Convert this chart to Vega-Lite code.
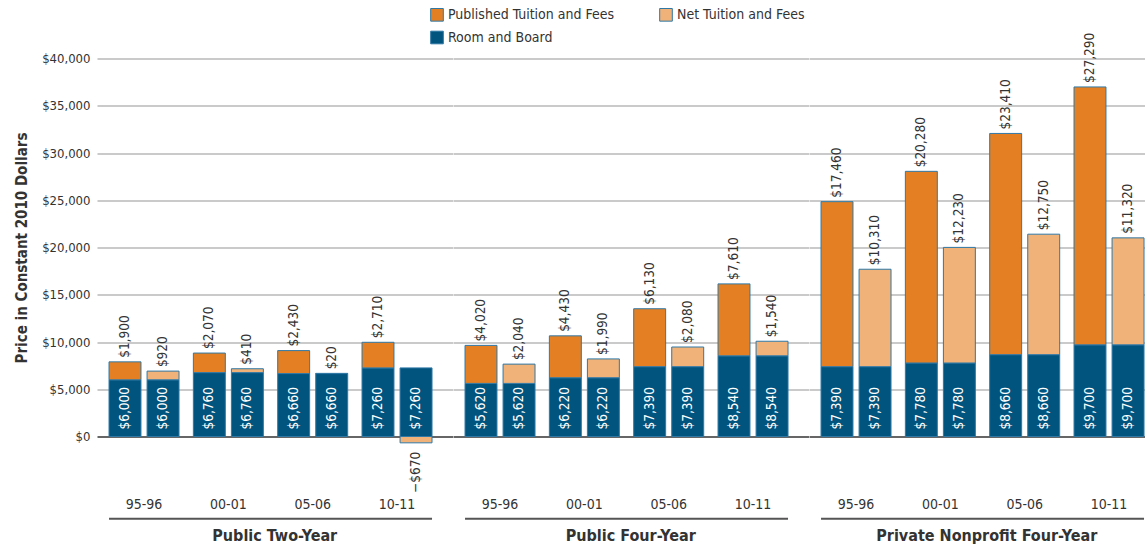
{
  "$schema": "https://vega.github.io/schema/vega-lite/v6.json",
  "padding": {"left": 14, "top": 7.5, "right": 0, "bottom": 0},
  "config": {
    "font": "Liberation Sans Narrow, DejaVu Sans Condensed, sans-serif",
    "view": {"stroke": null},
    "axis": {"labelColor": "#333", "titleColor": "#333", "labelFont": "Liberation Sans Narrow, DejaVu Sans Condensed, sans-serif", "titleFont": "Liberation Sans Narrow, DejaVu Sans Condensed, sans-serif"},
    "legend": {"labelFont": "Liberation Sans Narrow, DejaVu Sans Condensed, sans-serif"},
    "header": {"labelFont": "Liberation Sans Narrow, DejaVu Sans Condensed, sans-serif"}
  },
  "data": {"values": [
    {"group": "Public Two-Year", "year": "95-96", "bar": "Published", "series": "Room and Board", "value": 6000},
    {"group": "Public Two-Year", "year": "95-96", "bar": "Published", "series": "Published Tuition and Fees", "value": 1900},
    {"group": "Public Two-Year", "year": "95-96", "bar": "Net", "series": "Room and Board", "value": 6000},
    {"group": "Public Two-Year", "year": "95-96", "bar": "Net", "series": "Net Tuition and Fees", "value": 920},
    {"group": "Public Two-Year", "year": "00-01", "bar": "Published", "series": "Room and Board", "value": 6760},
    {"group": "Public Two-Year", "year": "00-01", "bar": "Published", "series": "Published Tuition and Fees", "value": 2070},
    {"group": "Public Two-Year", "year": "00-01", "bar": "Net", "series": "Room and Board", "value": 6760},
    {"group": "Public Two-Year", "year": "00-01", "bar": "Net", "series": "Net Tuition and Fees", "value": 410},
    {"group": "Public Two-Year", "year": "05-06", "bar": "Published", "series": "Room and Board", "value": 6660},
    {"group": "Public Two-Year", "year": "05-06", "bar": "Published", "series": "Published Tuition and Fees", "value": 2430},
    {"group": "Public Two-Year", "year": "05-06", "bar": "Net", "series": "Room and Board", "value": 6660},
    {"group": "Public Two-Year", "year": "05-06", "bar": "Net", "series": "Net Tuition and Fees", "value": 20},
    {"group": "Public Two-Year", "year": "10-11", "bar": "Published", "series": "Room and Board", "value": 7260},
    {"group": "Public Two-Year", "year": "10-11", "bar": "Published", "series": "Published Tuition and Fees", "value": 2710},
    {"group": "Public Two-Year", "year": "10-11", "bar": "Net", "series": "Room and Board", "value": 7260},
    {"group": "Public Two-Year", "year": "10-11", "bar": "Net", "series": "Net Tuition and Fees", "value": -670},
    {"group": "Public Four-Year", "year": "95-96", "bar": "Published", "series": "Room and Board", "value": 5620},
    {"group": "Public Four-Year", "year": "95-96", "bar": "Published", "series": "Published Tuition and Fees", "value": 4020},
    {"group": "Public Four-Year", "year": "95-96", "bar": "Net", "series": "Room and Board", "value": 5620},
    {"group": "Public Four-Year", "year": "95-96", "bar": "Net", "series": "Net Tuition and Fees", "value": 2040},
    {"group": "Public Four-Year", "year": "00-01", "bar": "Published", "series": "Room and Board", "value": 6220},
    {"group": "Public Four-Year", "year": "00-01", "bar": "Published", "series": "Published Tuition and Fees", "value": 4430},
    {"group": "Public Four-Year", "year": "00-01", "bar": "Net", "series": "Room and Board", "value": 6220},
    {"group": "Public Four-Year", "year": "00-01", "bar": "Net", "series": "Net Tuition and Fees", "value": 1990},
    {"group": "Public Four-Year", "year": "05-06", "bar": "Published", "series": "Room and Board", "value": 7390},
    {"group": "Public Four-Year", "year": "05-06", "bar": "Published", "series": "Published Tuition and Fees", "value": 6130},
    {"group": "Public Four-Year", "year": "05-06", "bar": "Net", "series": "Room and Board", "value": 7390},
    {"group": "Public Four-Year", "year": "05-06", "bar": "Net", "series": "Net Tuition and Fees", "value": 2080},
    {"group": "Public Four-Year", "year": "10-11", "bar": "Published", "series": "Room and Board", "value": 8540},
    {"group": "Public Four-Year", "year": "10-11", "bar": "Published", "series": "Published Tuition and Fees", "value": 7610},
    {"group": "Public Four-Year", "year": "10-11", "bar": "Net", "series": "Room and Board", "value": 8540},
    {"group": "Public Four-Year", "year": "10-11", "bar": "Net", "series": "Net Tuition and Fees", "value": 1540},
    {"group": "Private Nonprofit Four-Year", "year": "95-96", "bar": "Published", "series": "Room and Board", "value": 7390},
    {"group": "Private Nonprofit Four-Year", "year": "95-96", "bar": "Published", "series": "Published Tuition and Fees", "value": 17460},
    {"group": "Private Nonprofit Four-Year", "year": "95-96", "bar": "Net", "series": "Room and Board", "value": 7390},
    {"group": "Private Nonprofit Four-Year", "year": "95-96", "bar": "Net", "series": "Net Tuition and Fees", "value": 10310},
    {"group": "Private Nonprofit Four-Year", "year": "00-01", "bar": "Published", "series": "Room and Board", "value": 7780},
    {"group": "Private Nonprofit Four-Year", "year": "00-01", "bar": "Published", "series": "Published Tuition and Fees", "value": 20280},
    {"group": "Private Nonprofit Four-Year", "year": "00-01", "bar": "Net", "series": "Room and Board", "value": 7780},
    {"group": "Private Nonprofit Four-Year", "year": "00-01", "bar": "Net", "series": "Net Tuition and Fees", "value": 12230},
    {"group": "Private Nonprofit Four-Year", "year": "05-06", "bar": "Published", "series": "Room and Board", "value": 8660},
    {"group": "Private Nonprofit Four-Year", "year": "05-06", "bar": "Published", "series": "Published Tuition and Fees", "value": 23410},
    {"group": "Private Nonprofit Four-Year", "year": "05-06", "bar": "Net", "series": "Room and Board", "value": 8660},
    {"group": "Private Nonprofit Four-Year", "year": "05-06", "bar": "Net", "series": "Net Tuition and Fees", "value": 12750},
    {"group": "Private Nonprofit Four-Year", "year": "10-11", "bar": "Published", "series": "Room and Board", "value": 9700},
    {"group": "Private Nonprofit Four-Year", "year": "10-11", "bar": "Published", "series": "Published Tuition and Fees", "value": 27290},
    {"group": "Private Nonprofit Four-Year", "year": "10-11", "bar": "Net", "series": "Room and Board", "value": 9700},
    {"group": "Private Nonprofit Four-Year", "year": "10-11", "bar": "Net", "series": "Net Tuition and Fees", "value": 11320}
  ]},
  "facet": {
    "column": {
      "field": "group",
      "type": "nominal",
      "sort": ["Public Two-Year", "Public Four-Year", "Private Nonprofit Four-Year"],
      "header": {"title": null, "labelOrient": "bottom", "labelFontSize": 16, "labelFontWeight": "bold", "labelColor": "#333", "labelPadding": 7}
    }
  },
  "spacing": 0,
  "resolve": {"axis": {"x": "independent"}},
  "spec": {
    "width": 355.5,
    "height": 378,
    "layer": [
      {
        "mark": {"type": "bar", "stroke": "#2f78a6", "strokeWidth": 1},
        "encoding": {
          "x": {"field": "year", "type": "nominal", "sort": ["95-96", "00-01", "05-06", "10-11"],
            "scale": {"paddingInner": 0.17, "paddingOuter": 0.1927, "align": 0.37},
            "axis": {"title": null, "domain": false, "ticks": false, "labelPadding": 61, "labelFontSize": 14, "labelAngle": 0, "grid": false}},
          "xOffset": {"field": "bar", "type": "nominal", "sort": ["Published", "Net"], "scale": {"paddingInner": 0.16, "paddingOuter": 0}},
          "y": {"field": "value", "type": "quantitative", "stack": "zero",
            "scale": {"domain": [0, 40000], "nice": false},
            "axis": {"title": "Price in Constant 2010 Dollars", "format": "$,.0f", "values": [0, 5000, 10000, 15000, 20000, 25000, 30000, 35000, 40000],
              "domain": false, "ticks": false, "labelPadding": 7, "labelFontSize": 13, "titleFontSize": 15, "titleFontWeight": "bold", "titlePadding": 12,
              "gridColor": {"condition": {"test": "datum.value === 0", "value": "#333333"}, "value": "#b8b8b8"}, "gridWidth": 1.5}},
          "color": {"field": "series", "type": "nominal",
            "scale": {"domain": ["Published Tuition and Fees", "Net Tuition and Fees", "Room and Board"], "range": ["#E48023", "#F0B278", "#00547E"]},
            "legend": {"orient": "none", "legendX": 333, "legendY": -51, "columns": 2, "direction": "horizontal", "title": null, "symbolType": "square", "symbolSize": 160, "symbolStrokeColor": "#2f78a6", "symbolStrokeWidth": 1, "labelFontSize": 14, "labelLimit": 400, "labelColor": "#333", "columnPadding": 42, "rowPadding": 5}},
          "order": {"field": "series", "sort": "descending"}
        }
      },
      {
        "transform": [{"filter": "datum.year === '95-96' && datum.bar === 'Published' && datum.series === 'Room and Board'"}],
        "mark": {"type": "rule", "color": "#555", "strokeWidth": 2},
        "encoding": {
          "x": {"datum": "95-96", "bandPosition": 0},
          "x2": {"datum": "10-11", "bandPosition": 1},
          "y": {"datum": -8700}
        }
      },
      {
        "transform": [{"filter": "datum.series === 'Room and Board'"}],
        "mark": {"type": "text", "angle": 270, "align": "left", "baseline": "middle", "dx": 7, "color": "white", "fontSize": 13.5},
        "encoding": {
          "x": {"field": "year", "type": "nominal", "sort": ["95-96", "00-01", "05-06", "10-11"]},
          "xOffset": {"field": "bar", "type": "nominal", "sort": ["Published", "Net"]},
          "y": {"datum": 0},
          "text": {"field": "value", "type": "quantitative", "format": "$,.0f"}
        }
      },
      {
        "transform": [
          {"calculate": "datum.series === 'Room and Board' ? datum.value : 0", "as": "rbv"},
          {"joinaggregate": [{"op": "sum", "field": "rbv", "as": "rb"}], "groupby": ["group", "year", "bar"]},
          {"filter": "datum.series !== 'Room and Board' && datum.value >= 0"},
          {"calculate": "datum.rb + datum.value", "as": "top"}
        ],
        "mark": {"type": "text", "angle": 270, "align": "left", "baseline": "middle", "dx": 4, "color": "#333", "fontSize": 13.5},
        "encoding": {
          "x": {"field": "year", "type": "nominal", "sort": ["95-96", "00-01", "05-06", "10-11"]},
          "xOffset": {"field": "bar", "type": "nominal", "sort": ["Published", "Net"]},
          "y": {"field": "top", "type": "quantitative"},
          "text": {"field": "value", "type": "quantitative", "format": "$,.0f"}
        }
      },
      {
        "transform": [{"filter": "datum.value < 0"}],
        "mark": {"type": "text", "angle": 270, "align": "right", "baseline": "middle", "dx": -9, "color": "#333", "fontSize": 13.5},
        "encoding": {
          "x": {"field": "year", "type": "nominal", "sort": ["95-96", "00-01", "05-06", "10-11"]},
          "xOffset": {"field": "bar", "type": "nominal", "sort": ["Published", "Net"]},
          "y": {"field": "value", "type": "quantitative"},
          "text": {"field": "value", "type": "quantitative", "format": "$,.0f"}
        }
      }
    ]
  }
}
